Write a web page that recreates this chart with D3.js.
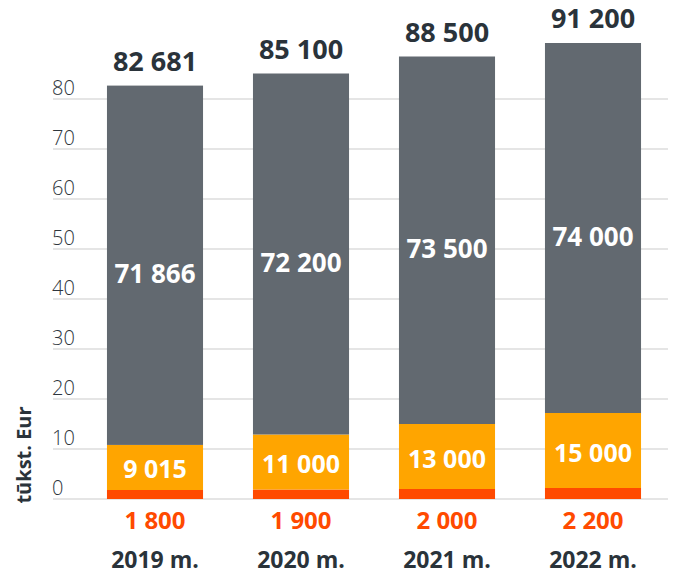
<!DOCTYPE html>
<html><head><meta charset="utf-8">
<script src="https://cdn.jsdelivr.net/npm/d3@7"></script>
<style>body{margin:0;background:#fff}svg{display:block}</style>
</head><body>
<script>
const categories = ["2019 m.", "2020 m.", "2021 m.", "2022 m."];
const redValues = [1800, 1900, 2000, 2200];
const orangeValues = [9015, 11000, 13000, 15000];
const grayValues = [71866, 72200, 73500, 74000];
const totals = [82681, 85100, 88500, 91200];
const yTicks = [0, 10, 20, 30, 40, 50, 60, 70, 80];
const yTitle = "tūkst. Eur";

const W = 673, H = 574;
const svg = d3.select("body").append("svg").attr("width", W).attr("height", H);
const font = "'Open Sans', Lato, sans-serif";
const fmtS = v => String(v).replace(/\B(?=(\d{3})+(?!\d))/g, " ");

const x = d3.scaleBand().domain(categories).range([82, 666]).paddingInner(0.342).paddingOuter(0.171);
const y = d3.scaleLinear().domain([0, 80]).range([499, 99]);

// gridlines
const g = svg.append("g");
g.selectAll("line.grid").data(yTicks).join("line")
  .attr("x1", 53).attr("x2", 668)
  .attr("y1", d => y(d)).attr("y2", d => y(d))
  .attr("stroke", "#dcdcdc").attr("stroke-width", 1.5);
g.selectAll("text.tick").data(yTicks).join("text")
  .attr("x", 52).attr("y", d => y(d) - 4)
  .attr("font-family", font).attr("font-weight", 300).attr("font-size", 20)
  .attr("fill", "#2e363d").text(d => d);

const data = categories.map((c, i) => {
  const r = redValues[i] / 1000, o = orangeValues[i] / 1000, gr = grayValues[i] / 1000;
  return {c, i, segs: [
    {y0: 0, y1: r, color: "#ff4a00"},
    {y0: r, y1: r + o, color: "#ffa500"},
    {y0: r + o, y1: r + o + gr, color: "#626970"}
  ]};
});

const bars = svg.append("g").selectAll("g").data(data).join("g");
bars.selectAll("rect").data(d => d.segs.map(s => ({...s, c: d.c}))).join("rect")
  .attr("x", d => x(d.c)).attr("width", x.bandwidth())
  .attr("y", d => y(d.y1)).attr("height", d => y(d.y0) - y(d.y1))
  .attr("fill", d => d.color);

const cx = c => x(c) + x.bandwidth() / 2;

// totals
svg.append("g").selectAll("text").data(data).join("text")
  .attr("x", d => cx(d.c)).attr("y", d => y(d.segs[2].y1) - 15)
  .attr("text-anchor", "middle").attr("font-family", font).attr("font-weight", 700)
  .attr("font-size", 27).attr("fill", "#2a333a").text(d => fmtS(totals[d.i]));

// gray labels
svg.append("g").selectAll("text").data(data).join("text")
  .attr("x", d => cx(d.c)).attr("y", d => (y(d.segs[2].y0) + y(d.segs[2].y1)) / 2 + 8)
  .attr("text-anchor", "middle").attr("dominant-baseline", "central").attr("font-family", font).attr("font-weight", 700)
  .attr("font-size", 26).attr("fill", "#ffffff").text(d => fmtS(grayValues[d.i]));

// orange labels
svg.append("g").selectAll("text").data(data).join("text")
  .attr("x", d => cx(d.c)).attr("y", d => (y(d.segs[1].y0) + y(d.segs[1].y1)) / 2 + 1)
  .attr("text-anchor", "middle").attr("dominant-baseline", "central").attr("font-family", font).attr("font-weight", 700)
  .attr("font-size", 25).attr("fill", "#ffffff").text(d => fmtS(orangeValues[d.i]));

// red labels
svg.append("g").selectAll("text").data(data).join("text")
  .attr("x", d => cx(d.c)).attr("y", 529)
  .attr("text-anchor", "middle").attr("font-family", font).attr("font-weight", 700)
  .attr("font-size", 24).attr("fill", "#ff4a00").text(d => fmtS(redValues[d.i]));

// category labels
svg.append("g").selectAll("text").data(categories).join("text")
  .attr("x", d => cx(d)).attr("y", 568)
  .attr("text-anchor", "middle").attr("font-family", font).attr("font-weight", 700)
  .attr("font-size", 23).attr("fill", "#2a333a").text(d => d);

// y title
svg.append("text").attr("transform", "translate(31,455) rotate(-90)")
  .attr("text-anchor", "middle").attr("font-family", font).attr("font-weight", 700)
  .attr("font-size", 20).attr("fill", "#2a333a").text(yTitle);
</script>
</body></html>
